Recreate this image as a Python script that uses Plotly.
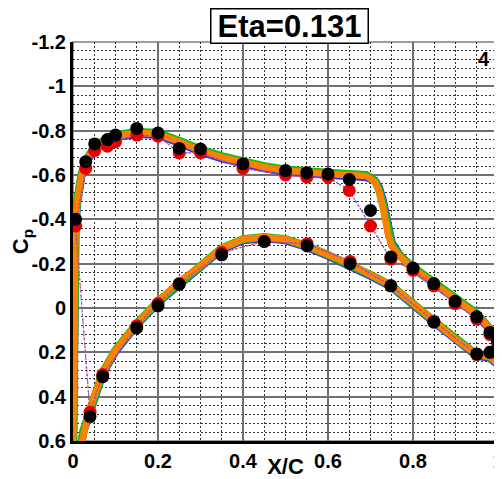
import plotly.graph_objects as go

# ---------------- data ----------------
x_tick_vals = [0, 0.2, 0.4, 0.6, 0.8, 1.0]
x_tick_text = ["0", "0.2", "0.4", "0.6", "0.8", "1"]
y_tick_vals = [-1.2, -1.0, -0.8, -0.6, -0.4, -0.2, 0.0, 0.2, 0.4, 0.6]
y_tick_text = ["-1.2", "-1", "-0.8", "-0.6", "-0.4", "-0.2", "0", "0.2", "0.4", "0.6"]

# CFD (orange) – lower surface TE -> LE, then upper surface LE -> TE
cfd_x = [1.0, 0.99, 0.98, 0.95, 0.9, 0.85, 0.8, 0.75, 0.7, 0.65, 0.6, 0.55, 0.5,
         0.45, 0.4, 0.35, 0.3, 0.25, 0.2, 0.15, 0.1, 0.07, 0.04, 0.025, 0.015, 0.005, 0.0,
         0.0005, 0.001, 0.002, 0.004, 0.006, 0.01, 0.02, 0.03, 0.05, 0.08, 0.1, 0.15,
         0.2, 0.25, 0.3, 0.35, 0.4, 0.45, 0.5, 0.55, 0.6, 0.65, 0.69, 0.71, 0.72, 0.73,
         0.74, 0.75, 0.77, 0.8, 0.85, 0.9, 0.95, 0.98, 1.0, 1.0]
cfd_cp = [0.25, 0.23, 0.22, 0.21, 0.14, 0.06, -0.02, -0.10, -0.15, -0.20, -0.24, -0.28, -0.31,
          -0.32, -0.31, -0.27, -0.19, -0.12, -0.03, 0.07, 0.19, 0.29, 0.45, 0.55, 0.65, 0.85, 1.0,
          0.6, 0.3, 0.0, -0.25, -0.38, -0.48, -0.60, -0.66, -0.72, -0.76, -0.775, -0.79,
          -0.785, -0.75, -0.71, -0.68, -0.655, -0.635, -0.62, -0.61, -0.605, -0.60, -0.595, -0.57, -0.53, -0.45,
          -0.34, -0.28, -0.23, -0.18, -0.11, -0.04, 0.03, 0.09, 0.14, 0.25]

# CFD (green)
grn_cp = [0.25, 0.23, 0.22, 0.21, 0.14, 0.06, -0.02, -0.10, -0.15, -0.20, -0.24, -0.28, -0.31,
          -0.32, -0.31, -0.27, -0.19, -0.12, -0.03, 0.07, 0.19, 0.29, 0.45, 0.55, 0.65, 0.85, 1.0,
          0.6, 0.3, 0.0, -0.255, -0.385, -0.485, -0.605, -0.665, -0.725, -0.765, -0.78, -0.795,
          -0.79, -0.755, -0.715, -0.685, -0.66, -0.64, -0.625, -0.615, -0.61, -0.605, -0.60, -0.575, -0.535, -0.46,
          -0.35, -0.285, -0.235, -0.185, -0.115, -0.045, 0.025, 0.09, 0.14, 0.25]

# CFD (blue)
blu_cp = [0.255, 0.235, 0.225, 0.215, 0.145, 0.065, -0.015, -0.095, -0.145, -0.195, -0.235, -0.275, -0.305,
          -0.315, -0.305, -0.265, -0.185, -0.115, -0.025, 0.075, 0.195, 0.295, 0.455, 0.555, 0.655, 0.85, 1.0,
          0.6, 0.3, 0.0, -0.245, -0.375, -0.475, -0.595, -0.655, -0.715, -0.755, -0.77, -0.785,
          -0.78, -0.745, -0.705, -0.675, -0.65, -0.63, -0.615, -0.605, -0.60, -0.595, -0.59, -0.575, -0.545, -0.48,
          -0.37, -0.295, -0.235, -0.18, -0.11, -0.04, 0.03, 0.095, 0.145, 0.255]

# Experiment (red) – lower TE -> LE, upper LE -> TE
red_x = [0.981, 0.95, 0.849, 0.748, 0.652, 0.551, 0.45, 0.35, 0.25, 0.2, 0.15, 0.07, 0.04,
         0.006, 0.03, 0.051, 0.081, 0.10, 0.15, 0.20, 0.25, 0.30, 0.40, 0.50, 0.55, 0.60,
         0.65, 0.70, 0.748, 0.80, 0.849, 0.899, 0.95, 0.981, 0.999]
red_cp = [0.20, 0.21, 0.06, -0.10, -0.21, -0.29, -0.30, -0.25, -0.11, -0.02, 0.08, 0.30, 0.47,
          -0.37, -0.63, -0.71, -0.73, -0.75, -0.78, -0.775, -0.70, -0.70, -0.63, -0.60, -0.59, -0.59,
          -0.53, -0.37, -0.22, -0.17, -0.10, -0.02, 0.05, 0.12, 0.16]

# Experiment (black)
blk_x = [0.981, 0.95, 0.849, 0.748, 0.652, 0.551, 0.45, 0.35, 0.25, 0.2, 0.15, 0.07, 0.04,
         0.006, 0.03, 0.051, 0.081, 0.10, 0.15, 0.20, 0.25, 0.30, 0.40, 0.50, 0.55, 0.60,
         0.65, 0.70, 0.748, 0.80, 0.849, 0.899, 0.95, 0.981, 0.999]
blk_cp = [0.20, 0.207, 0.064, -0.10, -0.20, -0.28, -0.30, -0.24, -0.107, -0.01, 0.09, 0.31, 0.49,
          -0.40, -0.66, -0.74, -0.76, -0.78, -0.81, -0.79, -0.72, -0.717, -0.65, -0.62, -0.61, -0.605,
          -0.58, -0.44, -0.23, -0.18, -0.11, -0.03, 0.04, 0.11, 0.15]

FONT = "Liberation Sans, Arial, Helvetica, sans-serif"

fig = go.Figure()
fig.add_trace(go.Scatter(x=cfd_x, y=blu_cp, mode="lines",
                         line=dict(color="#3030ff", width=8), hoverinfo="skip"))
fig.add_trace(go.Scatter(x=cfd_x, y=grn_cp, mode="lines",
                         line=dict(color="#10c010", width=8), hoverinfo="skip"))
fig.add_trace(go.Scatter(x=cfd_x, y=cfd_cp, mode="lines",
                         line=dict(color="#ff8000", width=6.5), hoverinfo="skip"))
fig.add_trace(go.Scatter(x=red_x, y=red_cp, mode="lines",
                         line=dict(color="#5a5aff", width=1.3, dash="2px,2px"), hoverinfo="skip"))
fig.add_trace(go.Scatter(x=red_x, y=red_cp, mode="markers+lines",
                         line=dict(color="#ff4040", width=1, dash="dot"),
                         marker=dict(color="#e60000", size=13), hoverinfo="skip"))
fig.add_trace(go.Scatter(x=blk_x, y=blk_cp, mode="markers",
                         marker=dict(color="#000000", size=13), hoverinfo="skip"))

# page body has an 8px default margin, so the figure is sized/offset to compensate
fig.update_layout(
    width=494, height=471,
    margin=dict(l=65, r=4, t=34, b=38, autoexpand=False),
    paper_bgcolor="white", plot_bgcolor="white",
    showlegend=False,
    font=dict(family=FONT, color="black"),
    xaxis=dict(
        range=[0, 1], tickmode="array", tickvals=x_tick_vals, ticktext=x_tick_text,
        automargin=False, ticklabeloverflow="allow",
        showgrid=True, gridcolor="#707070", gridwidth=1.5,
        minor=dict(dtick=0.05, tick0=0, showgrid=True, gridcolor="#303030",
                   griddash="2px,2px", gridwidth=1),
        showline=True, linecolor="black", linewidth=3,
        ticks="", zeroline=False,
        tickfont=dict(size=20, family=FONT, weight="bold"),
        title=dict(text="X/C", font=dict(size=22, family=FONT, weight="bold"), standoff=0),
    ),
    yaxis=dict(
        range=[0.6, -1.2], tickmode="array", tickvals=y_tick_vals, ticktext=y_tick_text,
        automargin=False, ticklabeloverflow="allow",
        showgrid=True, gridcolor="#707070", gridwidth=1.5,
        minor=dict(dtick=0.04, tick0=0, showgrid=True, gridcolor="#303030",
                   griddash="2px,2px", gridwidth=1),
        showline=True, linecolor="black", linewidth=3,
        ticks="", zeroline=False,
        tickfont=dict(size=20, family=FONT, weight="bold"),
        title=dict(text="C<sub>p</sub>", font=dict(size=22, family=FONT, weight="bold"), standoff=0),
    ),
    shapes=[dict(type="rect", xref="paper", yref="paper", x0=0, x1=1, y0=0, y1=1,
                 line=dict(color="#808080", width=1.5), layer="between")],
    annotations=[
        dict(text="Eta=0.131", xref="paper", yref="paper", x=0.509, y=1.040,
             xanchor="center", yanchor="middle", showarrow=False,
             width=154, height=31,
             font=dict(size=31, family=FONT, weight="bold", color="black"),
             bgcolor="white", bordercolor="black", borderwidth=1.5, borderpad=1),
        dict(text="4", xref="paper", yref="paper", x=0.967, y=0.957,
             xanchor="center", yanchor="middle", showarrow=False,
             font=dict(size=20, family=FONT, weight="bold", color="black")),
    ],
)

fig.write_html("out.html")
